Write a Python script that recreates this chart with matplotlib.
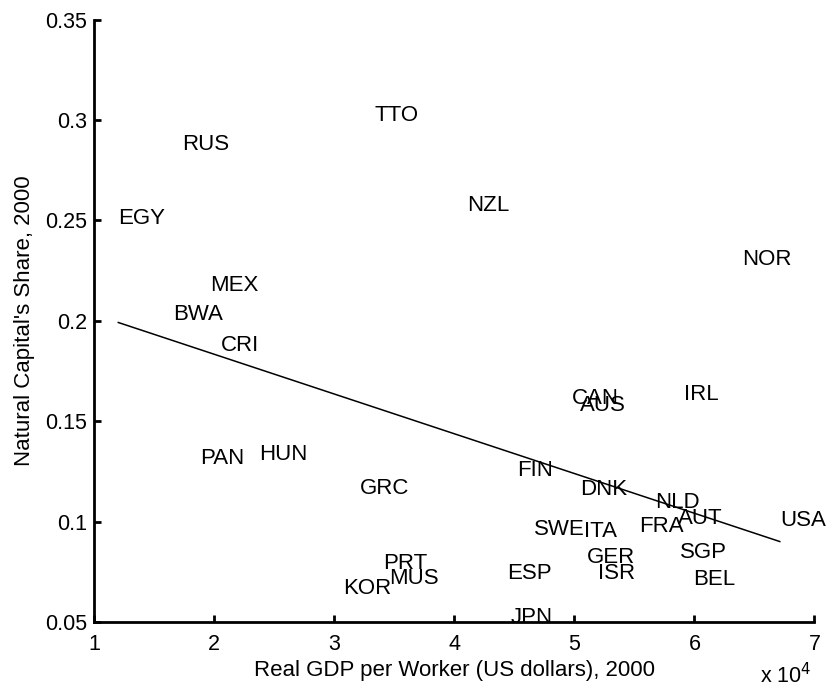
import numpy as np
import matplotlib
matplotlib.use("Agg")
import matplotlib.pyplot as plt

plt.rcParams['font.family'] = ['Liberation Sans', 'DejaVu Sans']

countries = ["EGY", "RUS", "TTO", "NZL", "MEX", "BWA", "CRI", "PAN", "HUN", "GRC",
             "CAN", "AUS", "IRL", "FIN", "DNK", "NLD", "AUT", "FRA", "USA", "NOR",
             "SWE", "ITA", "GER", "ISR", "SGP", "BEL", "ESP", "JPN", "PRT", "MUS", "KOR"]
gdp_per_worker = [12025, 17310, 33330, 41060, 19670, 16610, 20560, 18830, 23780, 32170,
                  49810, 50500, 59170, 45220, 50500, 56750, 58610, 55360, 67110, 63970,
                  46610, 50830, 51060, 51940, 58780, 59890, 44440, 44670, 34060, 34610, 30720]
natural_share = [0.2522, 0.2892, 0.3033, 0.2586, 0.2188, 0.2046, 0.1889, 0.1325, 0.1347, 0.1179,
                 0.1623, 0.1591, 0.1643, 0.1267, 0.1173, 0.1106, 0.1026, 0.0990, 0.1018, 0.2317,
                 0.0974, 0.0964, 0.0836, 0.0753, 0.0857, 0.0725, 0.0753, 0.0537, 0.0803, 0.0731, 0.0678]

x_ticks = [1, 2, 3, 4, 5, 6, 7]
y_ticks = [0.05, 0.1, 0.15, 0.2, 0.25, 0.3, 0.35]
y_tick_labels = ["0.05", "0.1", "0.15", "0.2", "0.25", "0.3", "0.35"]

FS = 16
TFS = 15.5

fig = plt.figure(figsize=(8.26, 6.88), dpi=100)
ax = fig.add_axes([94/826, 1 - 622/688, (814.5 - 94)/826, (622 - 19.5)/688])

x = np.array(gdp_per_worker) / 1e4
y = np.array(natural_share)

for c, xi, yi in zip(countries, x, y):
    ax.text(xi, yi, c, ha='left', va='center_baseline', fontsize=FS, color='black')

slope, intercept = np.polyfit(x, y, 1)
xs = np.array([x.min(), x.max()])
ax.plot(xs, intercept + slope * xs, color='black', lw=1.1)

ax.set_xlim(1, 7)
ax.set_ylim(0.05, 0.35)
ax.set_xticks(x_ticks)
ax.set_xticklabels([str(t) for t in x_ticks])
ax.set_yticks(y_ticks)
ax.set_yticklabels(y_tick_labels)

for s in ['top', 'right']:
    ax.spines[s].set_visible(False)
for s in ['left', 'bottom']:
    ax.spines[s].set_linewidth(2.0)
ax.tick_params(axis='both', direction='in', length=5, width=2.0, labelsize=TFS)
ax.tick_params(axis='x', pad=9)
ax.tick_params(axis='y', pad=5)

ax.set_xlabel("Real GDP per Worker (US dollars), 2000", fontsize=FS, labelpad=3)
ax.set_ylabel("Natural Capital's Share, 2000", fontsize=FS, labelpad=7)

fig.text(811/826, 1 - 683/688, r"x 10$^{4}$", ha='right', va='baseline', fontsize=TFS)

fig.savefig("out.png", dpi=100)
